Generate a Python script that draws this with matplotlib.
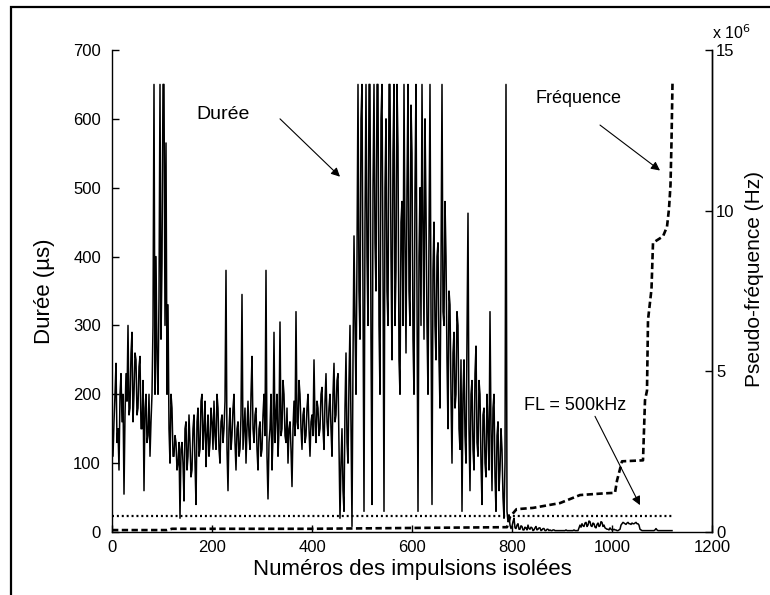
import numpy as np
import matplotlib
matplotlib.use("Agg")
import matplotlib.pyplot as plt
from matplotlib.patches import Rectangle

plt.rcParams['font.family'] = ['Liberation Sans', 'DejaVu Sans']

# ---- data ----
idx_step = 2  # pulse number spacing of the duration samples
duree_us = [
    # 0..98
    140, 110, 160, 200, 245, 130, 150, 90, 200, 230, 160, 200, 55, 170, 230, 190, 300, 170, 180, 260,
    290, 160, 200, 260, 250, 170, 180, 240, 255, 150, 150, 220, 60, 180, 200, 130, 140, 200, 110, 160,
    200, 300, 650, 200, 400, 250, 200, 340, 650, 280,
    # 100..198
    390, 650, 650, 300, 565, 200, 330, 150, 100, 200, 180, 110, 110, 140, 130, 90, 100, 130, 20, 120,
    130, 100, 45, 150, 160, 90, 110, 170, 130, 80, 90, 150, 170, 100, 40, 160, 180, 110, 120, 190,
    200, 120, 150, 190, 95, 140, 170, 110, 130, 180,
    # 200..298
    160, 120, 190, 140, 120, 200, 180, 120, 100, 160, 170, 130, 150, 190, 380, 120, 60, 150, 180, 120,
    140, 180, 200, 130, 90, 150, 160, 110, 120, 170, 345, 120, 150, 180, 100, 150, 190, 140, 120, 200,
    255, 150, 130, 170, 180, 120, 90, 150, 160, 110,
    # 300..398
    120, 170, 200, 140, 380, 110, 48, 130, 150, 200, 90, 140, 290, 130, 170, 200, 110, 150, 305, 140,
    150, 220, 200, 140, 130, 180, 100, 150, 160, 120, 66, 150, 190, 140, 320, 160, 150, 220, 200, 150,
    120, 170, 180, 130, 140, 180, 200, 150, 110, 160,
    # 400..498
    170, 140, 250, 160, 130, 190, 180, 140, 150, 200, 210, 150, 120, 190, 230, 160, 140, 180, 200, 150,
    110, 200, 245, 160, 170, 220, 230, 120, 20, 100, 150, 60, 30, 180, 260, 130, 100, 220, 300, 150,
    8, 250, 430, 300, 200, 400, 650, 350, 280, 600,
    # 500..598
    650, 350, 30, 450, 650, 400, 300, 650, 650, 280, 40, 500, 650, 420, 350, 650, 650, 300, 200, 600,
    650, 380, 30, 500, 600, 350, 300, 650, 650, 400, 250, 550, 650, 300, 380, 650, 560, 250, 200, 450,
    480, 300, 650, 420, 260, 500, 650, 350, 300, 620,
    # 600..698
    550, 280, 200, 500, 650, 350, 30, 400, 500, 300, 650, 450, 280, 600, 470, 300, 200, 420, 650, 320,
    40, 380, 450, 300, 250, 400, 420, 250, 180, 380, 650, 320, 300, 480, 400, 250, 150, 350, 330, 200,
    100, 260, 290, 180, 200, 320, 300, 150, 120, 250,
    # 700..798
    30, 200, 250, 140, 100, 280, 463, 150, 60, 200, 220, 120, 90, 230, 270, 130, 110, 220, 200, 100,
    40, 170, 180, 100, 80, 200, 150, 90, 320, 150, 60, 180, 200, 80, 30, 140, 160, 60, 90, 150,
    120, 50, 20, 100, 650, 30, 15, 25, 10, 5,
    # 800..898
    8, 15, 20, 6, 5, 10, 12, 4, 4, 9, 8, 3, 3, 7, 6, 3, 10, 5, 4, 7,
    6, 2, 3, 6, 8, 3, 4, 6, 6, 2, 3, 5, 5, 2, 2, 4, 4, 2, 3, 2,
    2, 3, 3, 2, 2, 2, 2, 2, 2, 2,
    # 900..998
    2, 2, 2, 2, 3, 2, 2, 2, 2, 2, 2, 2, 3, 2, 2, 2, 2, 6, 10, 7,
    12, 9, 8, 13, 14, 8, 10, 16, 15, 9, 8, 13, 12, 7, 6, 11, 13, 8, 9, 15,
    14, 8, 10, 6, 5, 4, 4, 3, 6, 4,
    # 1000..1120
    3, 3, 4, 3, 3, 2, 2, 3, 4, 10, 12, 14, 13, 12, 11, 13, 14, 12, 12, 11,
    13, 12, 12, 13, 14, 12, 12, 10, 4, 3, 2, 2, 2, 2, 2, 2, 2, 2, 2, 2,
    2, 2, 2, 3, 5, 3, 2, 2, 2, 2, 2, 2, 2, 2, 2, 2, 2, 2, 2, 2, 2,
]

freq_idx = [0, 110, 120, 400, 790, 796, 809, 842, 896, 936, 982, 1006, 1010, 1020,
            1062, 1066, 1070, 1072, 1079, 1082, 1102, 1110, 1114, 1117, 1119, 1121]
freq_mhz = [0.06, 0.06, 0.1, 0.1, 0.15, 0.47, 0.71, 0.75, 0.9, 1.15, 1.2, 1.22, 1.6, 2.2,
            2.23, 4.1, 4.4, 6.6, 7.56, 9.0, 9.2, 9.5, 10.06, 10.8, 12.15, 13.97]

fl_mhz = 0.5
fl_range = [0, 1120]

x_ticks = [0, 200, 400, 600, 800, 1000, 1200]
y_ticks = [0, 100, 200, 300, 400, 500, 600, 700]
y2_ticks = [0, 5, 10, 15]

# ---- figure ----
fig = plt.figure(figsize=(7.7, 5.95), dpi=100)
ax = fig.add_axes([112/770, 1-532/595, 600/770, 482/595])
ax2 = ax.twinx()

x_d = np.arange(len(duree_us)) * idx_step
ax.plot(x_d, duree_us, color='black', lw=1.1)
ax2.plot(freq_idx, freq_mhz, color='black', lw=1.9, linestyle=(0, (2.4, 1.3)))
ax2.plot(fl_range, [fl_mhz, fl_mhz], color='black', lw=1.6, linestyle=(0, (0.9, 1.3)))

ax.set_xlim(0, 1200)
ax.set_ylim(0, 700)
ax2.set_ylim(0, 15)
ax.set_xticks(x_ticks)
ax.set_yticks(y_ticks)
ax2.set_yticks(y2_ticks)

for a in (ax, ax2):
    a.spines['top'].set_visible(False)
    for s in a.spines.values():
        s.set_linewidth(1.0)
    a.tick_params(direction='in', length=5, width=1.0, labelsize=12)
ax.tick_params(axis='y', pad=8)
ax.tick_params(axis='x', pad=6)
ax2.tick_params(axis='y', pad=3)
ax2.spines['left'].set_visible(False)
ax2.spines['bottom'].set_visible(False)

ax.set_xlabel('Numéros des impulsions isolées', fontsize=16, labelpad=3)
ax.set_ylabel('Durée (µs)', fontsize=16, labelpad=13)
ax2.set_ylabel('Pseudo-fréquence (Hz)', fontsize=15, labelpad=8)
ax2.yaxis.set_label_coords(1.055, 0.525)

fig.text(712/770, 1-39/595, r'x 10$^6$', fontsize=11.5, ha='left', va='baseline')

arrow = dict(arrowstyle='-|>', color='black', lw=0.8, mutation_scale=13, shrinkA=0, shrinkB=0)
ax.annotate('', xy=(456, 516), xytext=(336, 600), arrowprops=arrow)
ax.text(222, 607, 'Durée', fontsize=14, ha='center', va='center')
ax.annotate('', xy=(1096, 525), xytext=(976, 591), arrowprops=arrow)
ax.text(932, 629, 'Fréquence', fontsize=13, ha='center', va='center')
ax.annotate('', xy=(1056, 39), xytext=(966, 168), arrowprops=arrow)
ax.text(926, 184, 'FL = 500kHz', fontsize=13, ha='center', va='center')

fig.patches.append(Rectangle((10.5/770, -0.2), 2.0, 1.2 - 6.5/595, transform=fig.transFigure,
                             fill=False, edgecolor='black', lw=1.6, clip_on=False))

fig.savefig('out.png', dpi=100)
